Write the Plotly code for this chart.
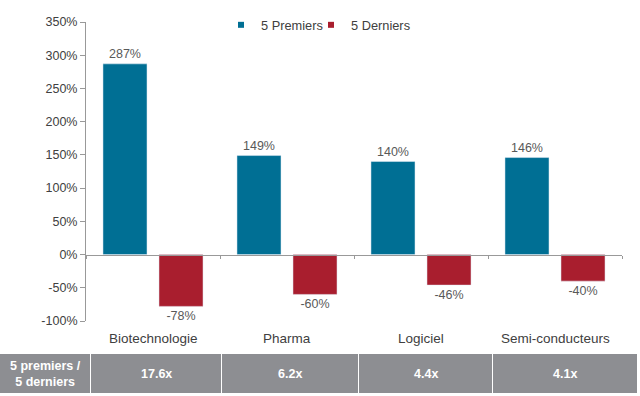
import plotly.graph_objects as go

categories = ["Biotechnologie", "Pharma", "Logiciel", "Semi-conducteurs"]
premiers = [287, 149, 140, 146]
derniers = [-78, -60, -46, -40]
ratio_label = "5 premiers /<br>5 derniers"
ratios = ["17.6x", "6.2x", "4.4x", "4.1x"]
y_ticks = [-100, -50, 0, 50, 100, 150, 200, 250, 300, 350]

BLUE = "#006f94"
RED = "#a91e2e"
GRAY = "#8d8e92"
FONT = "Liberation Sans, Arial, sans-serif"

def pct(v):
    return f"{v}%"

fig = go.Figure()
fig.add_trace(go.Bar(x=categories, y=premiers, name="5 Premiers", marker_color=BLUE,
                     text=[pct(v) for v in premiers], texttemplate="%{text}",
                     textposition="outside", cliponaxis=False,
                     textfont=dict(size=12.5, color="#595959", family=FONT), showlegend=False))
fig.add_trace(go.Bar(x=categories, y=derniers, name="5 Derniers", marker_color=RED,
                     text=[pct(v) for v in derniers], texttemplate="%{text}",
                     textposition="outside", cliponaxis=False,
                     textfont=dict(size=12.5, color="#595959", family=FONT), showlegend=False))
# legend entries with small square markers
fig.add_trace(go.Scatter(x=[None], y=[None], mode="markers", name="5 Premiers",
                         marker=dict(symbol="square", size=6, color=BLUE), legend="legend"))
fig.add_trace(go.Scatter(x=[None], y=[None], mode="markers", name="5 Derniers",
                         marker=dict(symbol="square", size=6, color=RED), legend="legend2"))

L, R, T, B = 86, 18, 22, 75
W, H = 640, 396
pw, ph = W - L - R, H - T - B

def px(xp):
    return (xp - L) / pw

def py(yp):
    return (H - B - yp) / ph

legend_style = dict(orientation="h", xanchor="left", y=py(25), yanchor="middle",
                    font=dict(size=12.8, color="#404040"), bgcolor="rgba(0,0,0,0)")

fig.update_layout(
    width=W, height=H,
    margin=dict(l=L, r=R, t=T, b=B, autoexpand=False),
    paper_bgcolor="white", plot_bgcolor="white",
    barmode="group", bargap=0.164, bargroupgap=0.214,
    font=dict(family=FONT, size=12.5, color="#404040"),
    legend=dict(x=px(221), **legend_style),
    legend2=dict(x=px(311), **legend_style),
    xaxis=dict(type="category", anchor="free", position=100 / 450,
               showline=True, linecolor="#999999", linewidth=1,
               ticks="outside", tickson="boundaries", ticklen=3, tickcolor="#999999",
               showticklabels=False, showgrid=False, zeroline=False,
               range=[-0.5, 3.5]),
    yaxis=dict(range=[-100, 350], tickvals=y_ticks, ticktext=[pct(v) for v in y_ticks],
               showline=True, linecolor="#999999", linewidth=1,
               ticks="outside", ticklen=5, tickcolor="#999999",
               showgrid=False, zeroline=False,
               tickfont=dict(size=12.5, color="#404040")),
)

# category labels below the plot
for c in categories:
    fig.add_annotation(x=c, xref="x", y=py(338), yref="paper", text=c, showarrow=False,
                       font=dict(size=13.5, color="#404040", family=FONT), yanchor="middle")

# bottom ratio table
cell_edges = [(0, 90), (91, 221), (222, 358), (359, 492), (493, 637)]
texts = [ratio_label] + ratios
for (x0, x1), t in zip(cell_edges, texts):
    fig.add_shape(type="rect", xref="paper", yref="paper",
                  x0=px(x0), x1=px(x1), y0=py(393), y1=py(354),
                  fillcolor=GRAY, line=dict(width=0), layer="above")
    fig.add_annotation(x=(px(x0) + px(x1)) / 2, y=(py(393) + py(354)) / 2,
                       xref="paper", yref="paper", text=f"<b>{t}</b>", showarrow=False,
                       font=dict(size=12.5, color="white", family=FONT),
                       xanchor="center", yanchor="middle", align="center")

fig.write_html("out.html", config={"displayModeBar": False},
               post_script="document.body.style.margin='0';")
